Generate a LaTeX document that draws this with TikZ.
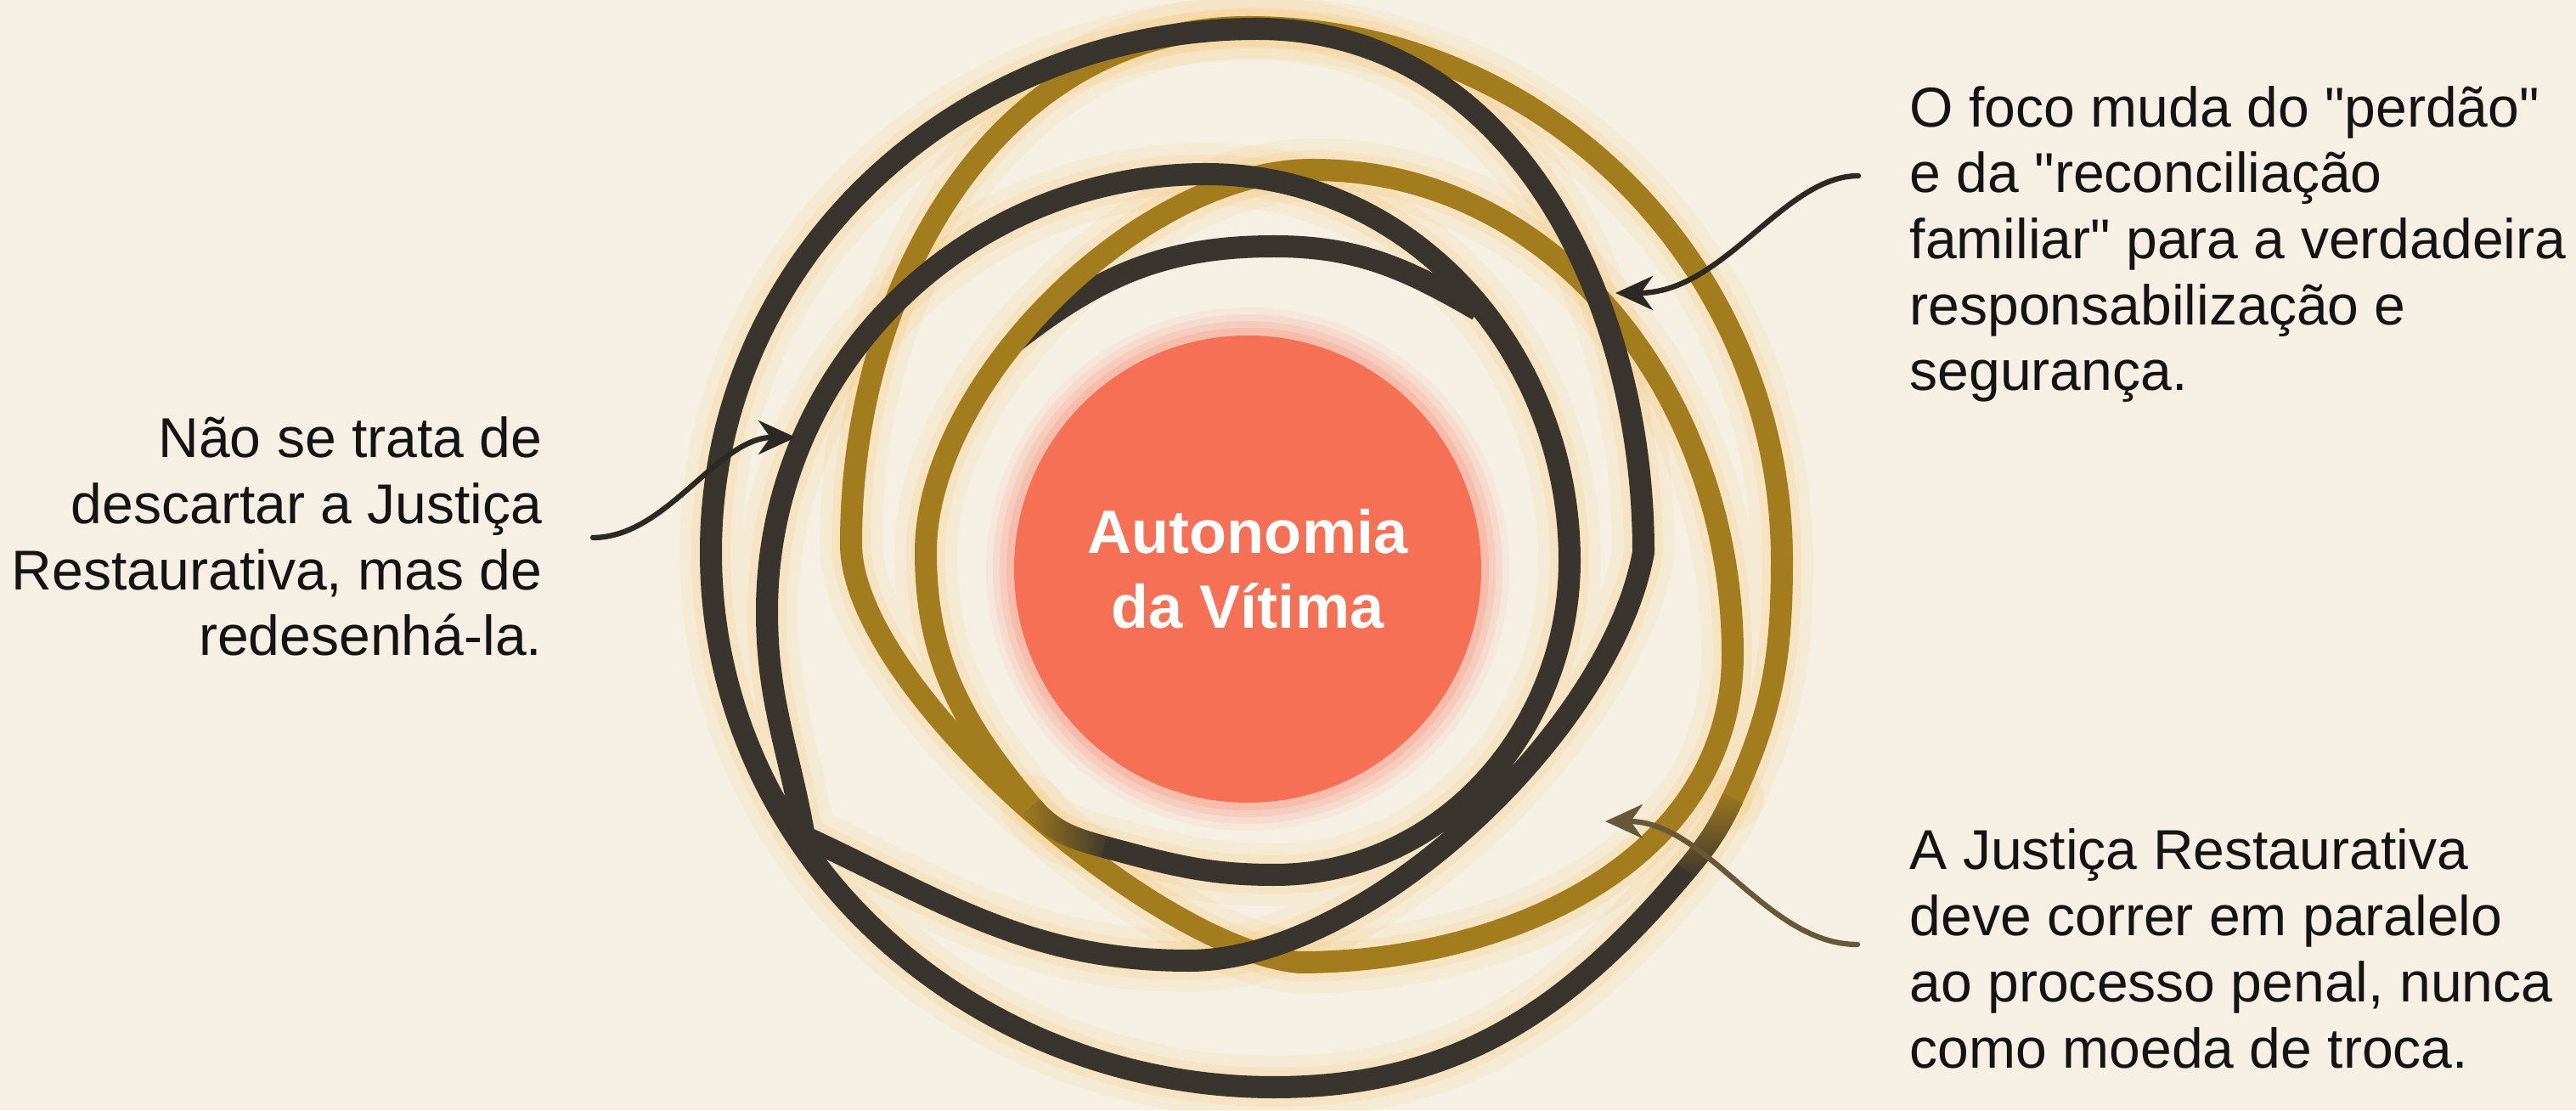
\documentclass[tikz,border=0pt]{standalone}
\usepackage{fontspec}
\newfontfamily\notefont{Liberation Sans}
\usepackage{tikz}
\usetikzlibrary{arrows.meta,fadings}

\definecolor{paper}{RGB}{245,240,227}
\definecolor{ringdark}{RGB}{58,52,46}
\definecolor{ringgold}{RGB}{163,124,30}
\definecolor{glow}{RGB}{250,192,100}
\definecolor{coral}{RGB}{245,112,84}
\definecolor{coralhalo}{RGB}{249,160,140}
\definecolor{inkdark}{RGB}{44,40,36}
\definecolor{inkolive}{RGB}{104,88,58}

\begin{document}
\begin{tikzpicture}[
  ring/.style={line width=7.4pt, line cap=butt, line join=round},
  ringglow/.style={draw=glow, line width=21pt, opacity=0.12, line cap=round, line join=round},
  note/.style={font=\notefont\fontsize{18.8pt}{22.1pt}\selectfont, text=black!92, inner sep=0pt},
  pointer/.style={line width=1.8pt, line cap=round, -{Stealth[length=4.4mm,width=4mm,inset=1.4mm]}},
  vitima/.style={circle, minimum size=5.5cm, fill=coral, text=white, align=center,
    font=\notefont\fontsize{20.5pt}{25pt}\selectfont\bfseries}
]

% Paper
\fill[paper] (0,0) rectangle (30.33,13.07);
\useasboundingbox (0,0) rectangle (30.33,13.07);

% Turning points of the tangle
\coordinate (p1) at (14.70,12.75);  \coordinate (p2) at (20.98,6.47);
\coordinate (q1) at (20.40,3.67);   \coordinate (m1) at (19.85,2.82);
\coordinate (p3) at (15.00,0.27);   \coordinate (p4) at (8.37,6.57);
\coordinate (p5) at (14.80,12.73);  \coordinate (p6) at (19.35,6.57);
\coordinate (p7) at (14.00,1.76);   \coordinate (kink) at (9.47,3.22);
\coordinate (p8) at (9.03,5.87);    \coordinate (p9) at (14.20,11.02);
\coordinate (p10) at (18.48,6.47);  \coordinate (p11) at (15.00,2.77);
\coordinate (q2) at (13.00,3.10);   \coordinate (m2) at (12.15,3.57);
\coordinate (p12) at (10.90,6.57);  \coordinate (p13) at (15.45,11.07);
\coordinate (p14) at (20.40,5.37);  \coordinate (p15) at (15.30,1.74);
\coordinate (p16) at (10.02,6.67);

% Gold stretch
\path[save path=\goldline] (m2) to[out=130,in=-90] (p12) to[out=90,in=180,looseness=0.8] (p13)
  to[out=0,in=90] (p14) to[out=-90,in=0] (p15) to[out=175,in=-90,looseness=0.6] (p16)
  to[out=90,in=180] (p1) to[out=0,in=90] (p2) to[out=-90,in=65] (q1);
% Dark stretch
\path[save path=\darkline] (q1) to[out=245,in=50] (m1) to[out=230,in=0] (p3) to[out=180,in=-90] (p4)
  to[out=90,in=180] (p5) to[out=0,in=90] (p6) to[out=-100,in=0,looseness=0.75] (p7)
  to[out=180,in=-25] (kink) to[out=100,in=-90] (p8) to[out=90,in=180] (p9)
  to[out=0,in=90] (p10) to[out=-90,in=0] (p11) to[out=180,in=-15] (q2) to[out=165,in=-50] (m2);
% Short inner arc over the centre
\path[save path=\innerline] (11.95,9.05) to[out=38,in=180] (15.00,10.17) to[out=0,in=150] (17.40,9.42);

% Soft glow behind the rings
\draw[ringglow, use path=\goldline];
\draw[ringglow, use path=\darkline];
\draw[ringglow, line width=13pt, opacity=0.16, use path=\goldline];
\draw[ringglow, line width=13pt, opacity=0.16, use path=\darkline];

% Halo round the centre
\coordinate (mid) at (14.69,6.37);
\foreach \r/\o in {3.08/0.10, 3.00/0.16, 2.92/0.24, 2.84/0.34}
  \fill[coralhalo, opacity=\o] (mid) circle (\r);

% Rings
\draw[ring, ringdark, use path=\innerline];
\draw[ring, ringgold, use path=\goldline];
\draw[ring, ringdark, use path=\darkline];

% Gold melting into dark
\draw[ring, ringgold, path fading=south] (q1) to[out=245,in=50] (m1);
\draw[ring, ringgold, path fading=east] (q2) to[out=165,in=-50] (m2);

% Centre
\node[vitima] (vitima) at (mid) {Autonomia\\da Vítima};

% Notes
\node[note, anchor=base east, align=right] (txtnao) at (6.39,5.35)
  {Não se trata de\\descartar a Justiça\\Restaurativa, mas de\\redesenhá-la.};
\node[note, anchor=base west, align=left] (txtfoco) at (22.48,8.47)
  {O foco muda do "perdão"\\e da "reconciliação\\familiar" para a verdadeira\\responsabilização e\\segurança.};
\node[note, anchor=base west, align=left] (txtparalelo) at (22.48,0.50)
  {A Justiça Restaurativa\\deve correr em paralelo\\ao processo penal, nunca\\como moeda de troca.};

% Arrow ends
\coordinate (naostart) at (6.98,6.74);
\coordinate (naotip) at (9.37,7.92);
\coordinate (focostart) at (21.88,11.00);
\coordinate (focotip) at (19.02,9.62);
\coordinate (parastart) at (21.87,1.95);
\coordinate (paratip) at (18.90,3.40);

% Arrows
\draw[pointer, inkdark] (naostart) .. controls (7.85,6.74) and (8.45,7.92) .. (naotip);
\draw[pointer, inkdark] (focostart) .. controls (21.00,11.00) and (20.30,9.62) .. (focotip);
\draw[pointer, inkolive] (parastart) .. controls (20.80,1.95) and (20.10,3.40) .. (paratip);

\end{tikzpicture}
\end{document}
